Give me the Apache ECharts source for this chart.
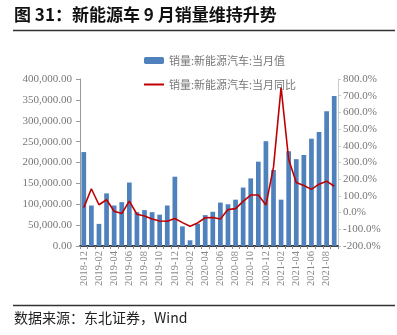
<!DOCTYPE html>
<html><head><meta charset="utf-8">
<script src="https://cdn.jsdelivr.net/npm/echarts@6/dist/echarts.min.js"></script>
<style>html,body{margin:0;padding:0;background:#fff}#c{width:397px;height:335px}</style>
</head><body><div id="c"></div>
<script>
const categories = ['2018-12','2019-01','2019-02','2019-03','2019-04','2019-05','2019-06','2019-07','2019-08','2019-09','2019-10','2019-11','2019-12','2020-01','2020-02','2020-03','2020-04','2020-05','2020-06','2020-07','2020-08','2020-09','2020-10','2020-11','2020-12','2021-01','2021-02','2021-03','2021-04','2021-05','2021-06','2021-07','2021-08','2021-09'];
const salesMonthly = [225000,97000,53000,126000,97000,105000,152000,81000,86000,81000,75000,97000,166000,47000,13600,53500,74000,82000,104000,100000,111000,140000,162000,202000,251000,182000,111000,227000,208000,218000,257000,273000,323000,359000];
const yoyPct = [30,143,47,77,8,-6,69,-10,-20,-38,-50,-52,-35,-60,-82,-62,-31,-29,-38,18,24,67,105,105,45,272,750,318,180,162,139,170,188,158];
const seriesNames = ['销量:新能源汽车:当月值','销量:新能源汽车:当月同比'];
const titleText = '图 31：新能源车 9 月销量维持升势';
const sourceText = '数据来源：东北证券，Wind';

const chart = echarts.init(document.getElementById('c'), null, {renderer:'canvas'});
const serif = '"Liberation Serif", "Times New Roman", serif';
const cjk = '"Noto Sans CJK SC", sans-serif';
chart.setOption({
  animation:false,
  backgroundColor:'#fff',
  graphic:[
    {type:'text', left:14, top:6, style:{text:titleText, font:'bold 17px "Noto Sans CJK SC"', fill:'#111'}},
    {type:'line', shape:{x1:13,y1:30.5,x2:395,y2:30.5}, style:{stroke:'#333', lineWidth:1.5}},
    {type:'line', shape:{x1:13,y1:305.5,x2:395,y2:305.5}, style:{stroke:'#333', lineWidth:1.5}},
    {type:'text', left:14, top:311, style:{text:sourceText, font:'14px "Noto Sans CJK SC"', fill:'#222'}}
  ],
  legend:[
    {left:139, top:50, itemWidth:20, itemHeight:7,
     textStyle:{fontSize:11, color:'#777', fontFamily:cjk},
     data:[seriesNames[0]]},
    {left:139, top:74, itemWidth:20, itemHeight:2, icon:'rect',
     textStyle:{fontSize:11, color:'#777', fontFamily:cjk},
     data:[seriesNames[1]]}
  ],
  grid:{left:80, right:59, top:79, bottom:89},
  xAxis:{
    type:'category', data:categories, boundaryGap:true,
    axisLine:{lineStyle:{color:'#404040', width:2}},
    axisTick:{show:true, interval:0, length:3, lineStyle:{color:'#888'}},
    axisLabel:{interval:1, rotate:90, fontSize:10.5, color:'#888', fontFamily:serif, margin:5}
  },
  yAxis:[
    {type:'value', min:0, max:400000, interval:50000,
     axisLine:{show:true, lineStyle:{color:'#999'}},
     axisTick:{show:true, length:4, lineStyle:{color:'#999'}},
     splitLine:{show:false},
     axisLabel:{fontSize:11, color:'#777', fontFamily:serif, margin:8,
       formatter:v=>v.toLocaleString('en-US',{minimumFractionDigits:2, maximumFractionDigits:2})}},
    {type:'value', min:-200, max:800, interval:100, position:'right',
     axisLine:{show:true, lineStyle:{color:'#ccc'}},
     axisTick:{show:true, length:3, lineStyle:{color:'#ccc'}},
     splitLine:{show:false},
     axisLabel:{fontSize:11, color:'#777', fontFamily:serif, margin:5,
       formatter:v=>v.toFixed(1)+'%'}}
  ],
  series:[
    {name:seriesNames[0], type:'bar', data:salesMonthly, yAxisIndex:0, barWidth:'62%',
     itemStyle:{color:'#4F81BD'}},
    {name:seriesNames[1], type:'line', data:yoyPct, yAxisIndex:1, symbol:'none',
     lineStyle:{color:'#C00000', width:1.6}, itemStyle:{color:'#C00000'}}
  ]
});
</script></body></html>
